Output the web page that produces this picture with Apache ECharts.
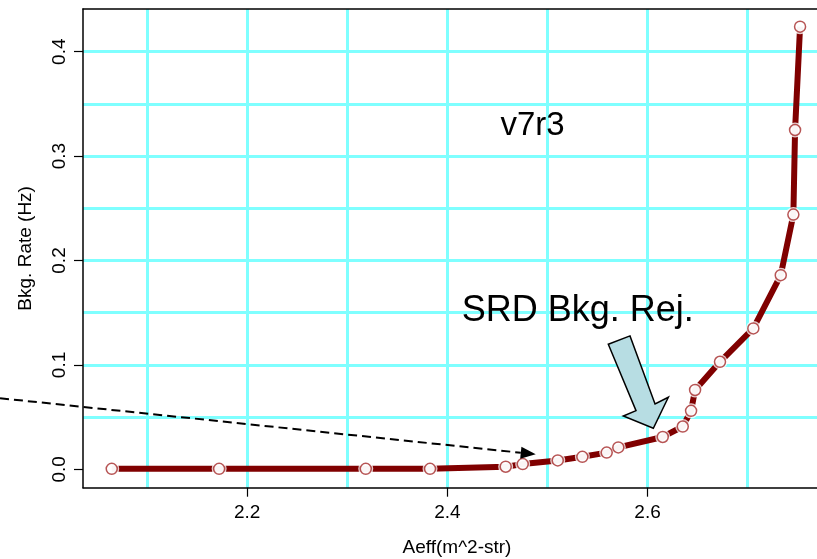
<!DOCTYPE html>
<html><head><meta charset="utf-8">
<script src="https://cdn.jsdelivr.net/npm/echarts@6/dist/echarts.min.js"></script>
<style>html,body{margin:0;padding:0;background:#fff}#chart{width:817px;height:559px}</style>
</head><body><div id="chart"></div>
<script>
// ---- data ----
const aeff = [2.0647, 2.172, 2.3185, 2.3827, 2.4583, 2.4753, 2.5103, 2.5349, 2.5592, 2.5708,
              2.6152, 2.6352, 2.6435, 2.6475, 2.6724, 2.7057, 2.7331, 2.7457, 2.7474, 2.7524];
const bkgRate = [0.0005, 0.0005, 0.0005, 0.0005, 0.0025, 0.005, 0.0085, 0.012, 0.016, 0.021,
                 0.031, 0.041, 0.056, 0.076, 0.103, 0.135, 0.186, 0.244, 0.325, 0.424];
const xTickValues = [2.2, 2.4, 2.6];
const xGridValues = [2.1, 2.2, 2.3, 2.4, 2.5, 2.6, 2.7];
const yTickValues = [0.0, 0.1, 0.2, 0.3, 0.4];
const yGridValues = [0.05, 0.1, 0.15, 0.2, 0.25, 0.3, 0.35, 0.4];
const xName = 'Aeff(m^2-str)';
const yName = 'Bkg. Rate (Hz)';
const label1 = 'v7r3';
const label2 = 'SRD Bkg. Rej.';
// annotation anchors (data units)
const dashStart = [1.9531, 0.0681];
const dashEnd = [2.4883, 0.0144];
const blockArrow = [[2.5608,0.1198],[2.5825,0.1278],[2.6075,0.0626],[2.6208,0.0690],
                    [2.6058,0.0393],[2.5758,0.0511],[2.5885,0.0562]];
const label1Pos = [2.4851, 0.3293];
const label2Pos = [2.4144, 0.1515];

const X_MIN = 2.036, X_MAX = 2.7833, Y_MIN = -0.0176, Y_MAX = 0.4409;
const tickFont = "'Liberation Sans',Arial,sans-serif";
const mainFont = "'Liberation Sans',Arial,sans-serif";
const points = aeff.map((x, i) => [x, bkgRate[i]]);

const chart = echarts.init(document.getElementById('chart'), null, {renderer: 'canvas'});
chart.setOption({
  animation: false,
  backgroundColor: '#fff',
  grid: {left: 83, top: 9, width: 748, height: 478.7, containLabel: false, outerBoundsMode: 'none'},
  xAxis: [
    {type: 'value', position: 'bottom', min: X_MIN, max: X_MAX,
     name: xName, nameLocation: 'middle', nameGap: 51,
     nameTextStyle: {fontFamily: mainFont, fontSize: 19, color: '#000'},
     axisLine: {show: true, onZero: false, lineStyle: {color: '#000', width: 1.5}},
     axisTick: {show: true, customValues: xTickValues, length: 9, lineStyle: {color: '#000', width: 1.2}},
     axisLabel: {show: true, customValues: xTickValues, margin: 16, color: '#000',
                 fontFamily: tickFont, fontSize: 19, formatter: v => v.toFixed(1)},
     splitLine: {show: false}},
    {type: 'value', position: 'top', min: X_MIN, max: X_MAX,
     axisLine: {show: true, onZero: false, lineStyle: {color: '#000', width: 1.5}},
     axisTick: {show: false, customValues: xGridValues},
     axisLabel: {show: false},
     splitLine: {show: true, lineStyle: {color: '#7fffff', width: 3}}}
  ],
  yAxis: [
    {type: 'value', position: 'left', min: Y_MIN, max: Y_MAX,
     name: yName, nameLocation: 'middle', nameGap: 48, nameRotate: 90,
     nameTextStyle: {fontFamily: mainFont, fontSize: 19, color: '#000'},
     axisLine: {show: true, onZero: false, lineStyle: {color: '#000', width: 1.5}},
     axisTick: {show: true, customValues: yTickValues, length: 9, lineStyle: {color: '#000', width: 1.2}},
     axisLabel: {show: true, customValues: yTickValues, rotate: 90, margin: 14, color: '#000',
                 fontFamily: tickFont, fontSize: 19, formatter: v => v.toFixed(1)},
     splitLine: {show: false}},
    {type: 'value', position: 'right', min: Y_MIN, max: Y_MAX,
     axisLine: {show: false, onZero: false},
     axisTick: {show: false, customValues: yGridValues},
     axisLabel: {show: false},
     splitLine: {show: true, lineStyle: {color: '#7fffff', width: 3}}}
  ],
  series: [
    {type: 'line', data: points, showSymbol: false, symbol: 'none', z: 2,
     lineStyle: {color: '#800000', width: 6}},
    {type: 'scatter', data: points, symbol: 'circle', symbolSize: 15, z: 3,
     itemStyle: {color: '#fff', borderWidth: 0}, silent: true},
    {type: 'scatter', data: points, symbol: 'circle', symbolSize: 11, z: 4,
     itemStyle: {color: '#fff', borderColor: '#a52a2a', borderWidth: 1.5}}
  ]
});

const px = p => chart.convertToPixel({seriesIndex: 0}, p);
const s = px(dashStart), e = px(dashEnd);
const dx = e[0] - s[0], dy = e[1] - s[1], L = Math.hypot(dx, dy), ux = dx / L, uy = dy / L;
const headLen = 15, headHalf = 6;
const base = [e[0] - ux * headLen, e[1] - uy * headLen];
const tri = [e, [base[0] - uy * headHalf, base[1] + ux * headHalf], [base[0] + uy * headHalf, base[1] - ux * headHalf]];
const l1 = px(label1Pos), l2 = px(label2Pos);
chart.setOption({graphic: [
  {type: 'line', z: 100, shape: {x1: s[0], y1: s[1], x2: base[0], y2: base[1]},
   style: {stroke: '#000', lineWidth: 2, lineDash: [9, 5]}},
  {type: 'polygon', z: 100, shape: {points: tri}, style: {fill: '#000'}},
  {type: 'polygon', z: 100, shape: {points: blockArrow.map(px)},
   style: {fill: '#b7dde3', stroke: '#000', lineWidth: 1.5}},
  {type: 'text', z: 100, x: l1[0], y: l1[1],
   style: {text: label1, fill: '#000', font: '33px ' + mainFont, align: 'center', verticalAlign: 'middle'}},
  {type: 'text', z: 100, x: l2[0], y: l2[1],
   style: {text: label2, fill: '#000', font: '36px ' + mainFont, align: 'left', verticalAlign: 'middle'}}
]});
</script></body></html>
